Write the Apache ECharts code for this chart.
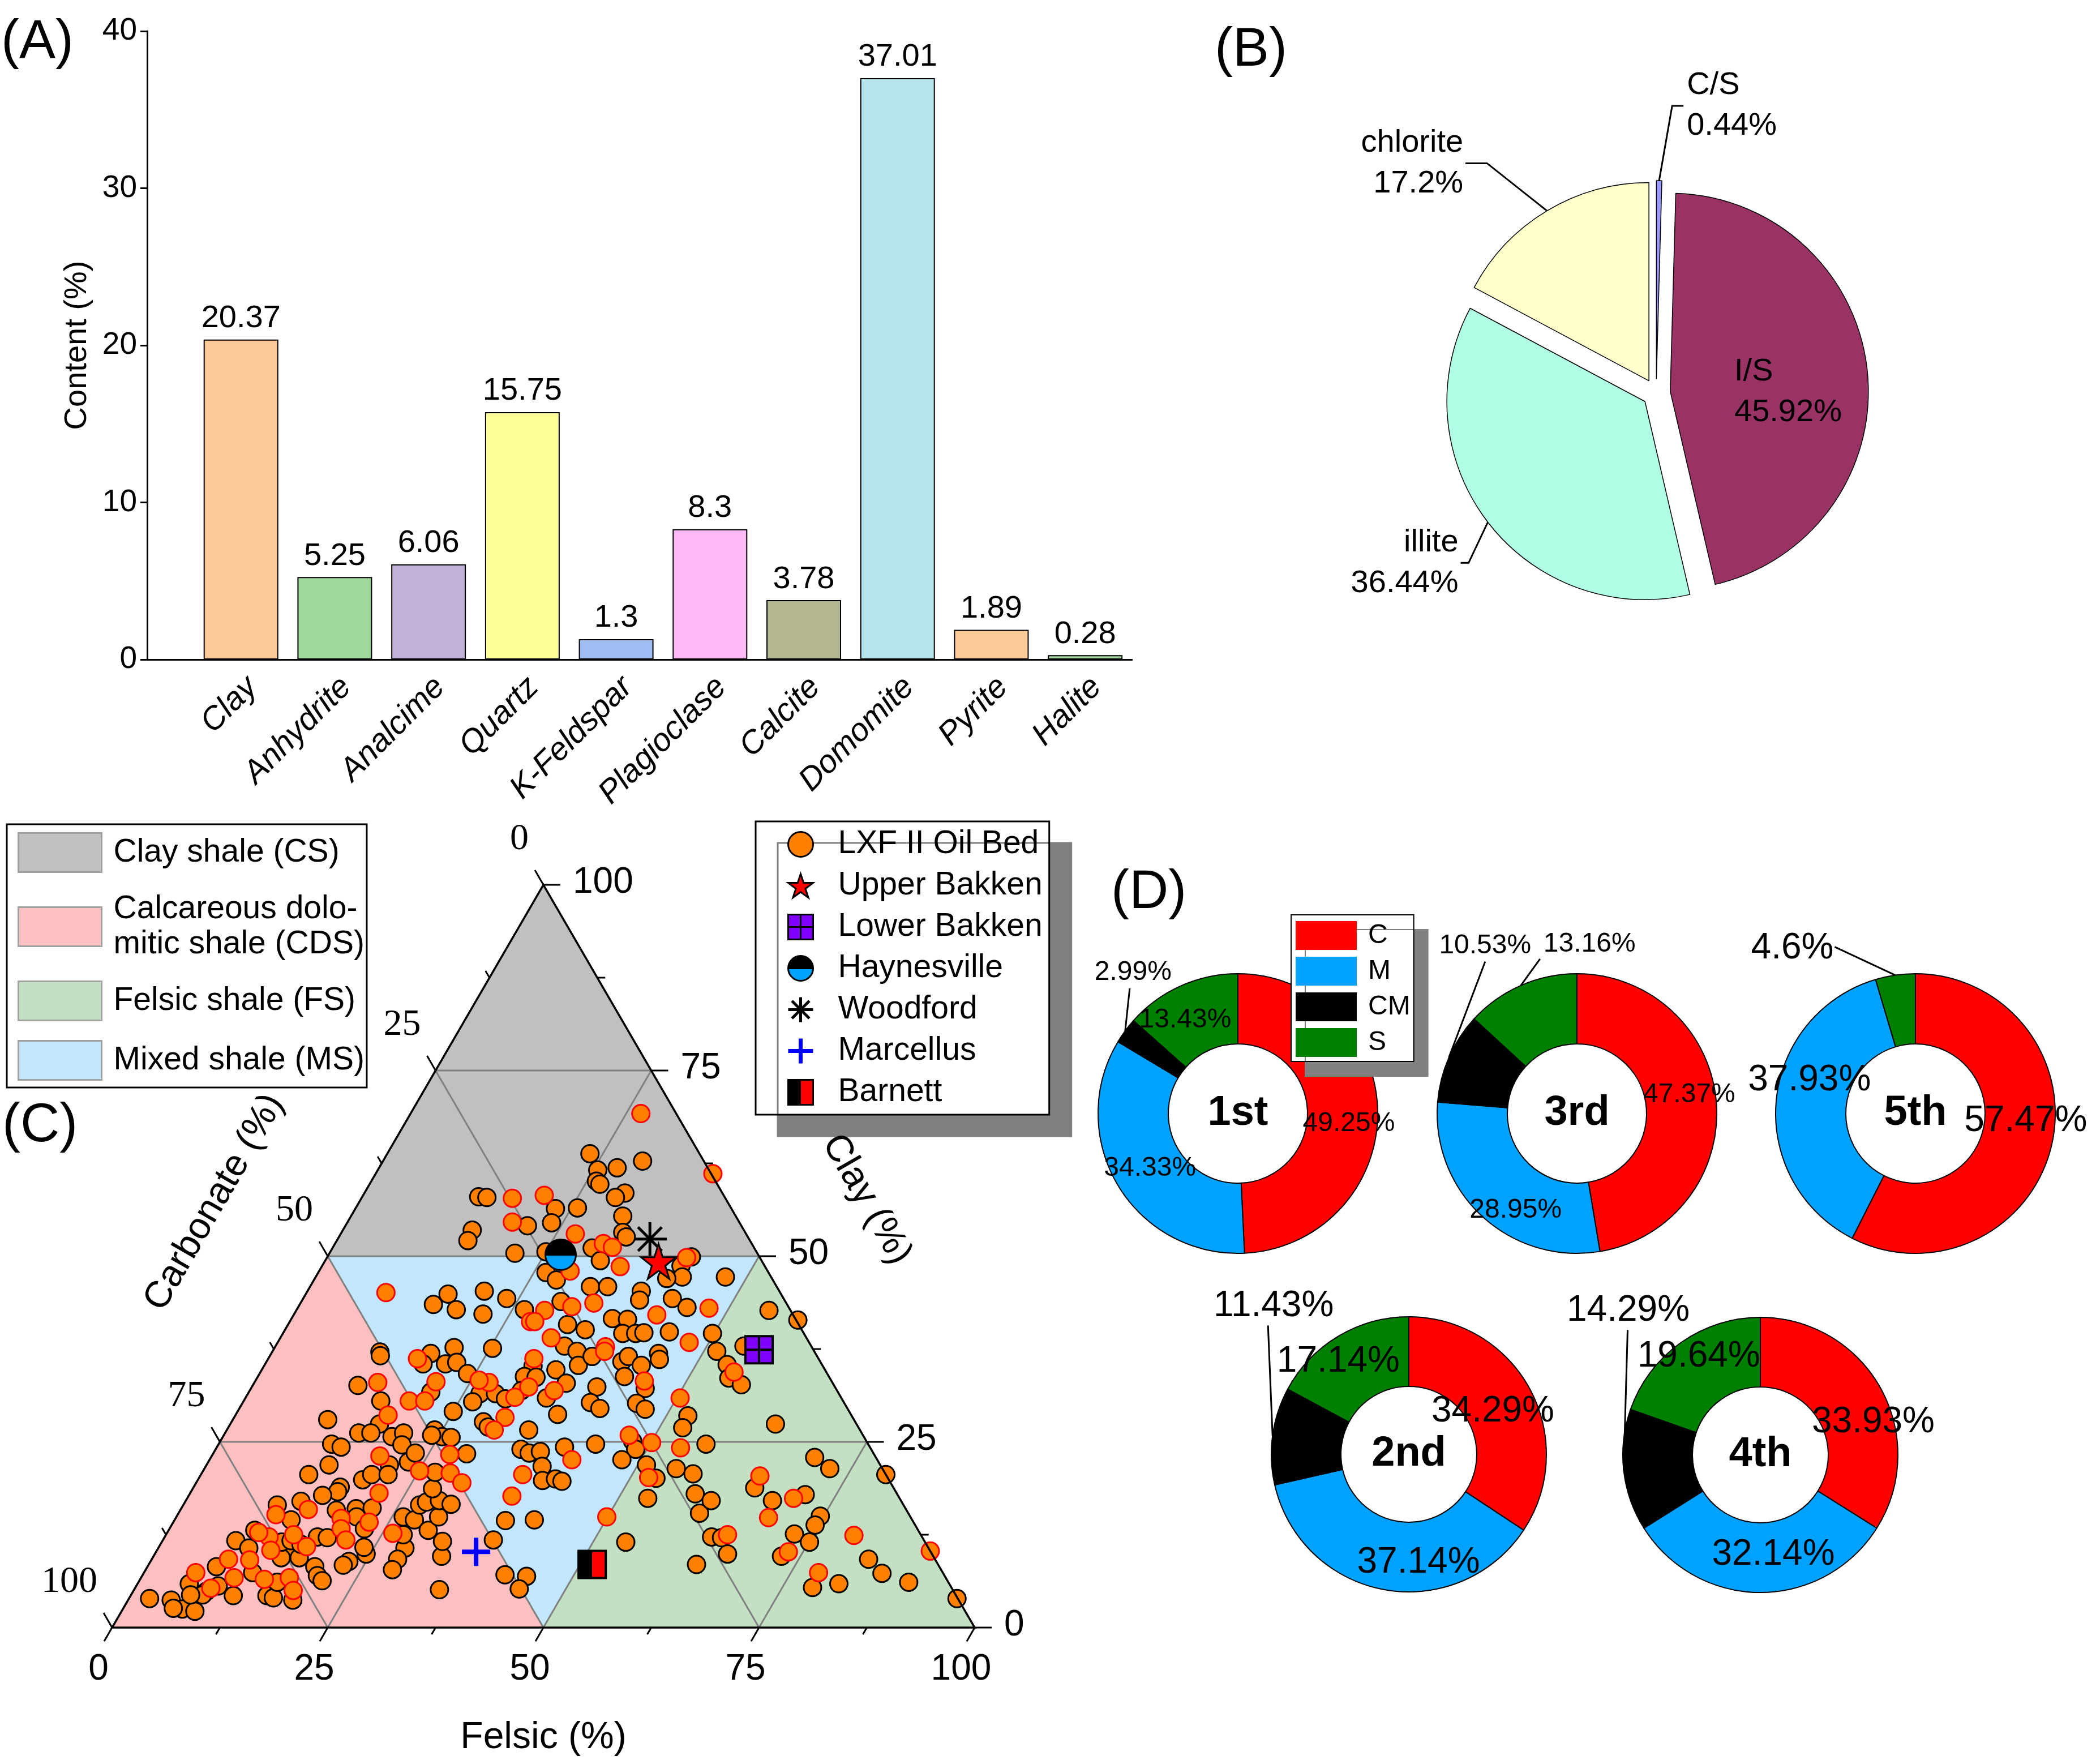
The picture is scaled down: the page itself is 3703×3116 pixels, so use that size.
<!DOCTYPE html>
<html>
<head>
<meta charset="utf-8">
<script src="https://cdn.jsdelivr.net/npm/echarts@6.0.0/dist/echarts.min.js"></script>
<style>html,body{margin:0;padding:0;background:#fff}#chart{width:3703px;height:3116px}</style>
</head>
<body>
<div id="chart"></div>
<script>
// ===================== DATA =====================
// Panel A: mineral content (%)
const minerals = ['Clay','Anhydrite','Analcime','Quartz','K-Feldspar','Plagioclase','Calcite','Domomite','Pyrite','Halite'];
const mineralContent = [20.37, 5.25, 6.06, 15.75, 1.3, 8.3, 3.78, 37.01, 1.89, 0.28];
const contentAxisMax = 40;
const contentAxisStep = 10;

// Panel B: clay minerals (%)
const clayMineralNames = ['C/S', 'I/S', 'illite', 'chlorite'];
const clayMineralShare = [0.44, 45.92, 36.44, 17.2];

// Panel D: ring charts (%), order C, M, CM, S
const componentNames = ['C', 'M', 'CM', 'S'];
const ring1st = [49.25, 34.33, 2.99, 13.43];
const ring3rd = [47.37, 28.95, 10.53, 13.16];
const ring5th = [57.47, 37.93, 0, 4.6];
const ring2nd = [34.29, 37.14, 11.43, 17.14];
const ring4th = [33.93, 32.14, 14.29, 19.64];

// Panel C: ternary, points as [felsic %, clay %] (carbonate = rest)
const ternaryTicks = [0, 25, 50, 75, 100];
const ternaryMinorTicks = [12.5, 37.5, 62.5, 87.5];
const regionCS  = [[0,50],[50,50],[0,100]];
const regionCDS = [[0,0],[50,0],[0,50]];
const regionFS  = [[50,0],[100,0],[50,50]];
const regionMS  = [[50,0],[0,50],[50,50]];

const lxfBlack = [
 [13.5,58.0],[14.5,57.9],[21.1,54.1],[15.0,53.5],[15.2,52.1],[21.5,50.4],[16.5,44.9],[15.5,43.5],[18.5,42.8],[20.5,45.3],[23.6,44.3],[21.9,42.2],[26.4,42.8],[12.5,37.1],[18.5,36.9],[20.8,37.7],[25.3,37.6],
 [23.5,63.8],[30.1,62.8],[25.5,61.6],[27.6,61.9],[26.1,60.1],[26.7,59.7],[30.2,58.5],[29.4,57.9],[23.2,56.4],[23.7,54.5],[25.7,56.5],[31.5,55.4],[32.6,53.2],[33.3,52.6],[30.1,51.1],[31.9,49.4],[25.0,50.6],[26.4,47.8],[28.1,46.8],[42.2,49.9],[41.6,48.7],[42.5,47.2],[40.8,47.0],[47.5,47.2],[32.5,45.9],[34.5,45.9],[38.7,45.3],[39.1,44.1],[42.8,44.3],[45.1,43.1],[54.8,42.7],[58.8,41.4],[30.1,43.9],[32.4,40.8],[37.2,41.6],[39.0,41.5],[39.4,39.6],[40.9,39.6],[41.8,39.7],[44.7,39.8],[49.8,39.6],[34.8,40.1],[33.5,37.9],[51.5,37.2],[54.3,37.9],[35.3,37.2],[44.9,36.9],
 [12.8,36.6],[12.2,32.6],[15.9,30.5],[11.0,28.0],[17.3,27.4],[15.5,26.2],[16.9,26.2],[19.6,25.7],[20.7,26.2],[21.3,24.6],[13.1,24.7],[14.4,24.3],[14.2,21.9],[12.5,20.6],[21.2,21.9],[23.2,22.3],[19.1,19.9],[19.8,20.6],[21.7,20.6],[17.0,18.9],[17.0,18.3],[15.5,17.8],[13.4,17.0],[10.9,16.5],[18.1,15.8],[20.3,16.0],[22.1,16.1],[20.9,14.9],[22.6,13.3],[26.3,14.9],[28.6,10.7],[28.5,9.2],[28.6,7.8],[24.5,9.9],[23.0,8.9],[22.6,8.4],[19.4,8.2],[20.3,7.0],[21.2,6.3],[17.7,12.2],[18.9,12.1],[15.2,10.9],[13.5,14.5],[10.0,13.1],[8.5,11.7],[10.5,10.7],[14.9,9.4],[17.0,9.4],[8.0,8.2],[6.0,5.9],[11.9,4.3],[15.8,4.3],[16.7,4.0],[19.1,3.7],[16.1,6.1],[2.4,3.9],[5.0,3.7],[6.9,2.5],[8.5,2.2],[5.8,2.6],[8.5,4.9],[9.5,5.6],[8.3,4.4],[6.9,4.4],[12.6,7.4],[13.9,11.5],[14.9,11.7],[27.5,12.5],[27.8,14.5],[27.4,16.5],[23.8,10.8],[16.3,11.2],
 [18.3,35.5],[20.9,35.5],[22.1,35.7],[24.1,34.2],[21.1,31.7],[26.9,31.5],[28.7,31.5],[26.6,30.4],[30.2,30.8],[25.0,29.1],[31.2,35.2],[30.9,33.8],[32.3,33.7],[31.5,31.9],[34.9,30.9],[34.1,34.7],[36.2,32.9],[37.3,28.7],[36.4,35.3],[37.4,36.5],[40.0,32.4],[40.3,30.3],[41.8,29.5],[41.2,35.8],[41.6,36.5],[42.5,33.8],[43.7,35.3],[45.7,32.2],[45.7,30.2],[47.1,29.4],[45.4,36.1],[52.5,28.5],[52.7,26.9],[35.0,26.6],[29.2,27.7],[30.1,27.0],[24.1,26.6],[25.4,25.7],[24.1,25.9],[26.5,25.6],[35.4,24.0],[36.6,23.5],[37.8,23.7],[40.3,24.3],[43.7,24.7],[47.8,25.1],[48.7,24.0],[47.8,22.6],[51.0,21.9],[53.0,20.1],[56.5,24.7],[54.7,21.4],[57.0,20.7],[58.6,18.0],[60.4,15.4],[53.4,17.4],[53.8,11.5],[63.5,8.5],[63.4,12.2],[60.9,17.1],[39.0,21.7],[40.0,19.8],[41.4,20.0],[42.3,19.7],[38.4,14.4],[41.7,14.5],[38.3,11.8],[42.0,7.1],[44.6,6.9],[44.6,5.2],[35.4,5.1],[33.4,9.6],[32.5,11.6],[30.1,13.1],[30.4,14.9],[28.0,16.9],[29.4,17.1],[31.0,16.6],[27.8,18.7],[27.0,20.9],[29.4,23.4],[23.4,23.5],
 [53.6,35.4],[54.7,33.6],[56.6,32.7],[63.2,27.4],[70.0,22.9],[72.5,21.4],[79.4,20.6],[65.1,18.8],[68.0,17.1],[71.4,17.9],[74.6,15.0],[74.6,13.8],[64.6,12.1],[66.4,9.9],[72.8,12.6],[75.1,11.5],[72.8,9.6],[78.5,5.4],[81.3,5.9],[83.1,9.2],[85.6,7.3],[89.3,6.1],[96.0,3.9]
];
const lxfRed = [
 [17.5,57.8],[19.1,54.6],[9.2,45.1],[27.9,41.2],[17.3,36.2],
 [26.7,69.2],[39.1,61.1],[21.0,58.2],[27.2,53.0],[31.1,51.7],[32.4,51.2],[34.6,48.6],[29.1,48.0],[41.7,49.8],[47.7,43.0],[42.1,42.1],[34.0,43.7],[31.7,43.2],[28.8,42.7],[28.4,41.2],[47.7,38.4],[31.4,39.0],[38.3,37.8],
 [14.3,33.0],[17.7,28.6],[19.2,30.5],[19.5,23.1],[25.1,21.1],[21.9,18.1],[14.8,15.9],[11.4,15.2],[19.2,14.7],[22.7,14.2],[19.9,13.3],[21.2,11.8],[26.2,12.7],[17.1,10.9],[14.8,12.5],[12.1,12.2],[13.2,10.4],[10.6,12.8],[11.4,9.1],[8.9,9.2],[10.8,6.7],[6.0,7.4],[8.8,5.3],[14.4,6.5],[17.2,6.7],[18.5,5.0],
 [21.0,33.1],[21.0,30.5],[27.2,33.0],[25.9,33.3],[31.2,31.0],[30.8,36.2],[32.1,32.4],[35.3,31.9],[38.5,37.2],[45.1,33.2],[50.4,30.9],[31.4,28.3],[31.0,26.6],[42.0,22.6],[47.0,25.9],[50.1,24.9],[52.1,20.2],[53.8,24.2],[49.9,14.9],[37.3,20.6],[37.5,17.7],[28.8,20.8],[30.8,19.5],[27.5,23.3],
 [54.9,34.4],[64.9,20.4],[70.3,17.4],[68.7,14.8],[65.1,12.5],[79.8,12.4],[73.3,10.2],[78.2,7.4],[89.7,10.3]
];
const upperBakken = [[38.7, 49.3]];
const lowerBakken = [[56.3, 37.4]];
const haynesville = [[26.9, 50.2]];
const woodford = [[36.2, 52.3]];
const marcellus = [[37.1, 10.2]];
const barnett = [[51.4, 8.5]];

// ===================== STYLE / LAYOUT =====================
const FONT = "'Liberation Sans', Arial, Helvetica, sans-serif";
const SERIF = "'Liberation Serif', 'Times New Roman', serif";
const mineralColors = ['#fbc898','#a0d89c','#c2b1d7','#ffff99','#a0bef4','#ffb9f7','#b3b68f','#b5e4ea','#fbc898','#a0d89c'];
const clayMineralColors = ['#9a9aff','#993366','#b0ffe2','#ffffcc'];
const componentColors = ['#ff0000','#00a2ff','#000000','#008000'];

const PIE_B = {cx: 2926, cy: 694, r: 350, offset: 25};
const PIE_B_LABELS = {
  'C/S': {out:[23,-132], h:20, gap:6, align:'left'},
  'chlorite': {out:[-106,-84], h:-38, gap:-4, align:'right'},
  'illite': {out:[-34,72], h:-14, gap:-4, align:'right'},
  'I/S': {inside:true, dx:31, dy:19}
};

const RINGS = [
  {title:'1st', values:ring1st, center:[2187,1967], radius:[123,247], font:48,
   tweak:{C:{dx:8,dy:22}, M:{dx:6,dy:0}, S:{dx:-16,dy:6}, CM:{out:[8,-75], tx:6, ty:-4, align:'center', va:'bottom'}}},
  {title:'3rd', values:ring3rd, center:[2786,1967], radius:[123,247], font:48,
   tweak:{C:{dx:11,dy:-18}, M:{dx:19,dy:32}, CM:{out:[64,-169], tx:0, ty:-4, align:'center', va:'bottom'}, S:{out:[34,-47], tx:6, ty:-2, align:'left', va:'bottom'}}},
  {title:'5th', values:ring5th, center:[3384,1967], radius:[123,247], font:64,
   tweak:{C:{dx:12,dy:-30}, M:{dx:0,dy:-42}, S:{out:[-107,-50], tx:-2, ty:3, align:'right', va:'middle'}}},
  {title:'2nd', values:ring2nd, center:[2489,2569], radius:[120,243], font:64,
   tweak:{C:{dx:-14,dy:12}, M:{dx:50,dy:10}, S:{dx:-30,dy:-5}, CM:{out:[-8,-195], tx:10, ty:-2, align:'center', va:'bottom'}}},
  {title:'4th', values:ring4th, center:[3110,2570], radius:[120,243], font:64,
   tweak:{C:{dx:38,dy:32}, M:{dx:23,dy:-8}, S:{dx:-2,dy:-23}, CM:{out:[7,-248], tx:1, ty:-2, align:'center', va:'bottom'}}}
];

const toXY = p => [p[0] + p[1] / 2, p[1]];

// mid angles (radians, clockwise from 12 o'clock) of slices
function midAngles(values) {
  const total = values.reduce((a, b) => a + b, 0);
  let cum = 0;
  return values.map(v => { const m = (cum + v / 2) / total * 2 * Math.PI; cum += v; return m; });
}
const edgePoint = (c, r, a) => [c[0] + r * Math.sin(a), c[1] - r * Math.cos(a)];

// ===================== BUILD =====================
const chart = echarts.init(document.getElementById('chart'), null, {renderer: 'canvas'});

// --- Panel A
const barSeries = {
  type: 'bar', xAxisIndex: 0, yAxisIndex: 0, barWidth: 132, silent: true,
  data: mineralContent.map((v, i) => ({value: [i + 1, v], itemStyle: {color: mineralColors[i], borderColor: '#000', borderWidth: 2}})),
  label: {show: true, position: 'top', distance: 9, fontSize: 56, color: '#000', fontFamily: FONT,
          formatter: p => String(p.value[1])}
};

// --- Panel B (each slice as its own pie, shifted along its mid angle)
function pieBSeries() {
  const mids = midAngles(clayMineralShare);
  return clayMineralNames.map((name, i) => {
    const mid = mids[i];
    const c = [PIE_B.cx + PIE_B.offset * Math.sin(mid), PIE_B.cy - PIE_B.offset * Math.cos(mid)];
    const lay = PIE_B_LABELS[name];
    const p0 = edgePoint(c, PIE_B.r, mid);
    return {
      type: 'pie', name: 'clay-' + name, center: c, radius: PIE_B.r, startAngle: 90, clockwise: true,
      avoidLabelOverlap: false, silent: true, z: 2,
      label: {show: false}, labelLine: {show: false},
      data: clayMineralNames.map((n, j) => j === i ? {
        name: n, value: clayMineralShare[j],
        itemStyle: {color: clayMineralColors[j], borderColor: '#000', borderWidth: 1.5},
        label: {show: true, position: lay.inside ? 'inside' : 'outside', formatter: n + '\n' + clayMineralShare[j] + '%',
                fontSize: 56, lineHeight: 72, color: '#000', fontFamily: FONT},
        labelLine: {show: !lay.inside, length: 10, length2: 10, lineStyle: {color: '#000', width: 3}}
      } : {name: n, value: clayMineralShare[j], itemStyle: {color: 'rgba(0,0,0,0)', borderWidth: 0}, label: {show: false}, labelLine: {show: false}}),
      labelLayout: function (params) {
        if (lay.inside) {
          const r = params.labelRect;
          if (!r) return {};
          return {x: r.x + lay.dx, y: r.y + r.height / 2 + lay.dy, align: 'left', verticalAlign: 'middle'};
        }
        const p1 = [p0[0] + lay.out[0], p0[1] + lay.out[1]];
        const p2 = [p1[0] + lay.h, p1[1]];
        return {x: p2[0] + lay.gap, y: p2[1], align: lay.align, verticalAlign: 'middle', labelLinePoints: [p0, p1, p2]};
      }
    };
  });
}

// --- Panel D
function ringSeries(cfg) {
  const mids = midAngles(cfg.values);
  return {
    type: 'pie', name: 'ring-' + cfg.title, center: cfg.center, radius: cfg.radius, startAngle: 90, clockwise: true,
    avoidLabelOverlap: false, silent: true, z: 2,
    itemStyle: {borderColor: '#000', borderWidth: 2},
    label: {show: true, position: 'inside', color: '#000', fontSize: cfg.font, fontFamily: FONT, formatter: p => p.value + '%'},
    labelLine: {show: false},
    data: componentNames.map((n, i) => {
      const item = {name: n, value: cfg.values[i], itemStyle: {color: componentColors[i]}};
      const t = cfg.tweak[n];
      if (cfg.values[i] === 0) {
        item.label = {show: false};
        item.itemStyle.borderWidth = 0;
      } else if (t && t.out) {
        item.label = {show: true, position: 'outside'};
        item.labelLine = {show: true, length: 10, length2: 10, lineStyle: {color: '#000', width: 3}};
      }
      return item;
    }),
    labelLayout: function (params) {
      const idx = params.dataIndex;
      const t = cfg.tweak[componentNames[idx]];
      if (!t) return {};
      if (t.out) {
        const p0 = edgePoint(cfg.center, cfg.radius[1], mids[idx]);
        const p1 = [p0[0] + t.out[0], p0[1] + t.out[1]];
        return {x: p1[0] + t.tx, y: p1[1] + t.ty, align: t.align, verticalAlign: t.va, labelLinePoints: [p0, p1, p1]};
      }
      return {dx: t.dx, dy: t.dy};
    }
  };
}

// --- Panel C
function regionSeries(name, verts, color) {
  return {
    type: 'custom', name: name, xAxisIndex: 1, yAxisIndex: 1, z: 1, silent: true, clip: false,
    itemStyle: {color: color},
    data: [[0, 0]],
    renderItem: (params, api) => ({
      type: 'polygon',
      shape: {points: verts.map(v => api.coord(toXY(v)))},
      style: {fill: api.visual('color'), stroke: null}
    })
  };
}

function frameGridRender(params, api) {
  const children = [];
  [25, 50, 75].forEach(v => {
    const segs = [[[0, v], [100 - v, v]], [[v, 0], [v, 100 - v]], [[100 - v, 0], [0, 100 - v]]];
    segs.forEach(s => {
      const a = api.coord(toXY(s[0])), b = api.coord(toXY(s[1]));
      children.push({type: 'line', shape: {x1: a[0], y1: a[1], x2: b[0], y2: b[1]}, style: {stroke: '#808080', lineWidth: 3}});
    });
  });
  return {type: 'group', children};
}

function frameAxesRender(params, api) {
  const ch = [];
  const P = (f, c) => api.coord(toXY([f, c]));
  const A = P(0, 0), B = P(100, 0), T = P(0, 100);
  ch.push({type: 'polygon', shape: {points: [A, B, T]}, style: {fill: null, stroke: '#000', lineWidth: 3.5}});
  const seg = (p, d, len) => ({type: 'line', shape: {x1: p[0], y1: p[1], x2: p[0] + d[0] * len, y2: p[1] + d[1] * len}, style: {stroke: '#000', lineWidth: 3}});
  const txt = (t, x, y, o) => ({type: 'text', x: x, y: y, rotation: o.rotation || 0,
    style: {text: t, fill: '#000', fontSize: o.size, fontFamily: o.family || FONT, align: o.align || 'center', verticalAlign: o.va || 'middle'}});
  const dBase = [-0.5, 0.866], dRight = [1, 0], dLeft = [-0.5, -0.866];
  ternaryTicks.forEach(v => {
    const pb = P(v, 0);
    ch.push(seg(pb, dBase, 28));
    ch.push(txt(String(v), pb[0] - 24, pb[1] + 74, {size: 64}));
    const pr = P(100 - v, v);
    ch.push(seg(pr, dRight, 30));
    ch.push(txt(String(v), pr[0] + 52, pr[1] - 4, {size: 64, align: 'left'}));
    const pl = P(0, 100 - v);
    ch.push(seg(pl, dLeft, 30));
    ch.push(txt(String(v), pl[0] - 26, pl[1] - 80, {size: 66, family: SERIF, align: 'right'}));
  });
  ternaryMinorTicks.forEach(v => {
    ch.push(seg(P(v, 0), dBase, 14));
    ch.push(seg(P(100 - v, v), dRight, 14));
    ch.push(seg(P(0, 100 - v), dLeft, 14));
  });
  const mb = P(50, 0), mr = P(50, 50), ml = P(0, 50);
  ch.push(txt('Felsic (%)', mb[0], mb[1] + 195, {size: 66}));
  ch.push(txt('Clay (%)', mr[0] + 190, mr[1] - 100, {size: 66, rotation: -Math.PI / 3}));
  ch.push(txt('Carbonate (%)', ml[0] - 200, ml[1] - 95, {size: 66, rotation: Math.PI / 3}));
  return {type: 'group', children: ch};
}

const halfBlackBlue = new echarts.graphic.LinearGradient(0, 0, 0, 1, [
  {offset: 0, color: '#000'}, {offset: 0.53, color: '#000'}, {offset: 0.53, color: '#00a2ff'}, {offset: 1, color: '#00a2ff'}]);
const halfBlackRed = new echarts.graphic.LinearGradient(0, 0, 1, 0, [
  {offset: 0, color: '#000'}, {offset: 0.5, color: '#000'}, {offset: 0.5, color: '#ff0000'}, {offset: 1, color: '#ff0000'}]);

function markerSeries(name, pts, symbol, size, itemStyle, z) {
  return {type: 'scatter', name: name, xAxisIndex: 1, yAxisIndex: 1, z: z || 4, silent: true, clip: false,
          symbol: symbol, symbolSize: size, itemStyle: Object.assign({opacity: 1}, itemStyle), data: pts.map(toXY)};
}

const STAR = 'path://M50,2 L61.8,38.2 L100,38.2 L69.1,61.8 L80.9,97.6 L50,75.4 L19.1,97.6 L30.9,61.8 L0,38.2 L38.2,38.2 Z';
const GRIDSQ = 'path://M0,0 H100 V100 H0 Z M50,0 V100 M0,50 H100';
const ASTER = 'path://M50,0 L50,100 M0,50 L100,50 M15,15 L85,85 M15,85 L85,15';
const PLUS = 'path://M42,0 H58 V42 H100 V58 H58 V100 H42 V58 H0 V42 H42 Z';

const regionNames = ['Clay shale (CS)', 'Calcareous dolomitic shale (CDS)', 'Felsic shale (FS)', 'Mixed shale (MS)'];
const regionLegendText = {'Calcareous dolomitic shale (CDS)': 'Calcareous dolo-\nmitic shale (CDS)'};
const sampleNames = ['LXF II Oil Bed', 'Upper Bakken', 'Lower Bakken', 'Haynesville', 'Woodford', 'Marcellus', 'Barnett'];

const series = [
  barSeries,
  ...pieBSeries(),
  ...RINGS.map(ringSeries),
  regionSeries(regionNames[0], regionCS, '#c0c0c0'),
  regionSeries(regionNames[1], regionCDS, '#fcc0c0'),
  regionSeries(regionNames[2], regionFS, '#c3e0c3'),
  regionSeries(regionNames[3], regionMS, '#c2e6fb'),
  {type: 'custom', name: 'frame-grid', xAxisIndex: 1, yAxisIndex: 1, z: 2, silent: true, clip: false, data: [[0, 0]], renderItem: frameGridRender},
  markerSeries('Woodford', woodford, ASTER, 60, {color: '#000', borderColor: '#000', borderWidth: 5}, 3),
  markerSeries('LXF II Oil Bed', lxfBlack, 'circle', 31, {color: '#ff8000', borderColor: '#000', borderWidth: 3}, 3),
  markerSeries('LXF II Oil Bed', lxfRed, 'circle', 31, {color: '#ff8000', borderColor: '#ff0000', borderWidth: 3}, 3),
  markerSeries('Upper Bakken', upperBakken, STAR, 62, {color: '#ff0000', borderColor: '#000', borderWidth: 3}),
  markerSeries('Lower Bakken', lowerBakken, GRIDSQ, 48, {color: '#8000ff', borderColor: '#000', borderWidth: 4}),
  markerSeries('Haynesville', haynesville, 'circle', 54, {color: halfBlackBlue, borderColor: '#000', borderWidth: 3}),
  markerSeries('Marcellus', marcellus, PLUS, 50, {color: '#0000ff'}),
  markerSeries('Barnett', barnett, 'rect', 48, {color: halfBlackRed, borderColor: '#000', borderWidth: 4}),
  {type: 'custom', name: 'frame-axes', xAxisIndex: 1, yAxisIndex: 1, z: 5, silent: true, clip: false, data: [[0, 0]], renderItem: frameAxesRender}
];

const option = {
  animation: false,
  backgroundColor: '#fff',
  textStyle: {fontFamily: FONT, color: '#000'},
  title: [
    {text: '(A)', left: 2, top: 28, padding: 0, textStyle: {fontSize: 96, fontWeight: 'normal', color: '#000', fontFamily: FONT}},
    {text: '(B)', left: 2146, top: 42, padding: 0, textStyle: {fontSize: 96, fontWeight: 'normal', color: '#000', fontFamily: FONT}},
    {text: '(C)', left: 4, top: 1942, padding: 0, textStyle: {fontSize: 96, fontWeight: 'normal', color: '#000', fontFamily: FONT}},
    {text: '(D)', left: 1963, top: 1530, padding: 0, textStyle: {fontSize: 96, fontWeight: 'normal', color: '#000', fontFamily: FONT}},
    ...RINGS.map(r => ({text: r.title, left: r.center[0], top: r.center[1], padding: 0, textAlign: 'center', textVerticalAlign: 'middle',
      textStyle: {fontSize: 74, fontWeight: 'bold', color: '#000', fontFamily: FONT}}))
  ],
  grid: [
    {left: 260, top: 55, width: 1740, height: 1110, containLabel: false, outerBoundsMode: 'none'},
    {left: 198, top: 1563, width: 1524, height: 1312, containLabel: false, outerBoundsMode: 'none', show: false}
  ],
  xAxis: [
    {type: 'value', gridIndex: 0, min: 0, max: minerals.length + 0.5, interval: 1,
     axisLine: {show: true, lineStyle: {color: '#000', width: 3}}, axisTick: {show: false}, splitLine: {show: false},
     axisLabel: {show: true, rotate: 45, align: 'right', verticalAlign: 'top', margin: 20, fontSize: 57, fontStyle: 'italic', color: '#000', fontFamily: FONT,
       showMinLabel: true, showMaxLabel: true,
       formatter: v => (Number.isInteger(v) && v >= 1 && v <= minerals.length) ? minerals[v - 1] : ''}},
    {type: 'value', gridIndex: 1, min: 0, max: 100, show: false}
  ],
  yAxis: [
    {type: 'value', gridIndex: 0, min: 0, max: contentAxisMax, interval: contentAxisStep,
     name: 'Content (%)', nameLocation: 'middle', nameGap: 95, nameRotate: 90,
     nameTextStyle: {fontSize: 56, color: '#000', fontFamily: FONT},
     axisLine: {show: true, lineStyle: {color: '#000', width: 3}},
     axisTick: {show: true, inside: false, length: 12, lineStyle: {color: '#000', width: 3}},
     splitLine: {show: false},
     axisLabel: {fontSize: 55, color: '#000', margin: 18, fontFamily: FONT}},
    {type: 'value', gridIndex: 1, min: 0, max: 100, show: false}
  ],
  legend: [
    {
      data: regionNames.map(n => ({name: n, icon: 'rect', itemStyle: {borderColor: '#a0a0a0', borderWidth: 3}})),
      formatter: n => regionLegendText[n] || n,
      orient: 'vertical', left: 12, top: 1456, itemWidth: 147, itemHeight: 69, itemGap: 33,
      padding: [14, 4, 12, 19], selectedMode: false,
      backgroundColor: '#fff', borderColor: '#000', borderWidth: 3,
      textStyle: {fontSize: 57, lineHeight: 62, color: '#000', fontFamily: FONT, padding: [0, 0, 0, 16]}
    },
    {
      data: sampleNames.map(n => n === 'Woodford' ? {name: n, itemStyle: {borderWidth: 5}} : (n === 'Marcellus' ? {name: n, itemStyle: {borderWidth: 0}} : {name: n, itemStyle: {borderWidth: 3}})),
      orient: 'vertical', left: 1335, top: 1451, itemWidth: 44, itemHeight: 44, itemGap: 16,
      padding: [12, 12, 11, 55], selectedMode: false,
      backgroundColor: '#fff', borderColor: '#000', borderWidth: 3,
      shadowColor: '#808080', shadowBlur: 0, shadowOffsetX: 39, shadowOffsetY: 38,
      textStyle: {fontSize: 57, color: '#000', fontFamily: FONT, padding: [0, 0, 0, 39]}
    },
    {
      data: componentNames.map(n => ({name: n, icon: 'rect', itemStyle: {borderWidth: 0}})),
      orient: 'vertical', left: 2281, top: 1616, itemWidth: 108, itemHeight: 51, itemGap: 12,
      padding: [11, 6, 8, 8], selectedMode: false,
      backgroundColor: '#fff', borderColor: '#000', borderWidth: 2,
      shadowColor: '#808080', shadowBlur: 0, shadowOffsetX: 25, shadowOffsetY: 26,
      textStyle: {fontSize: 48, color: '#000', fontFamily: FONT, padding: [0, 0, 0, 15]}
    }
  ],
  series: series
};

chart.setOption(option);
</script>
</body>
</html>
